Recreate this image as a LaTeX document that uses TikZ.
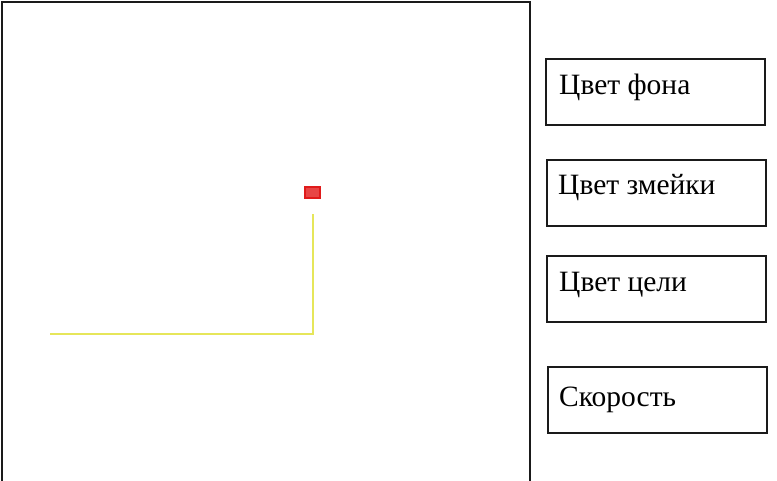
\documentclass[tikz,border=0pt]{standalone}
\usepackage{fontspec}
\setmainfont{Liberation Serif}
\definecolor{snakeyellow}{HTML}{E6E65A}
\definecolor{targetfill}{HTML}{E84545}
\definecolor{targetdraw}{HTML}{E01B1B}
\definecolor{frame}{HTML}{1A1A1A}
\begin{document}
\begin{tikzpicture}[x=1pt,y=-1pt,
  panel/.style={draw=frame,line width=2pt},
  menubox/.style={draw=frame,line width=2pt,minimum width=219pt,minimum height=66pt,inner sep=0pt},
  menutext/.style={anchor=base west,inner sep=0pt,font=\fontsize{29.5}{33}\selectfont}]
\useasboundingbox (0,0) rectangle (777,480);
\draw[panel] (2,490) |- (530,2) -- (530,490);
\node[menubox,anchor=north west] (b1) at (545,58) {};
\node[menubox,anchor=north west] (b2) at (546,159) {};
\node[menubox,anchor=north west] (b3) at (546,255) {};
\node[menubox,anchor=north west] (b4) at (547,366) {};
\node[menutext] (t1) at (559,94) {Цвет фона};
\node[menutext] (t2) at (558,194) {Цвет змейки};
\node[menutext] (t3) at (559,291) {Цвет цели};
\node[menutext] (t4) at (559,406) {Скорость};
\node[draw=targetdraw,fill=targetfill,line width=1.2pt,minimum width=15pt,minimum height=11pt,inner sep=0pt] (food) at (312.5,192.5) {};
\coordinate (s0) at (50,334);
\coordinate (s1) at (313,334);
\coordinate (s2) at (313,214);
\draw[snakeyellow,line width=2pt] (s0) -- (s1) -- (s2);
\end{tikzpicture}
\end{document}
